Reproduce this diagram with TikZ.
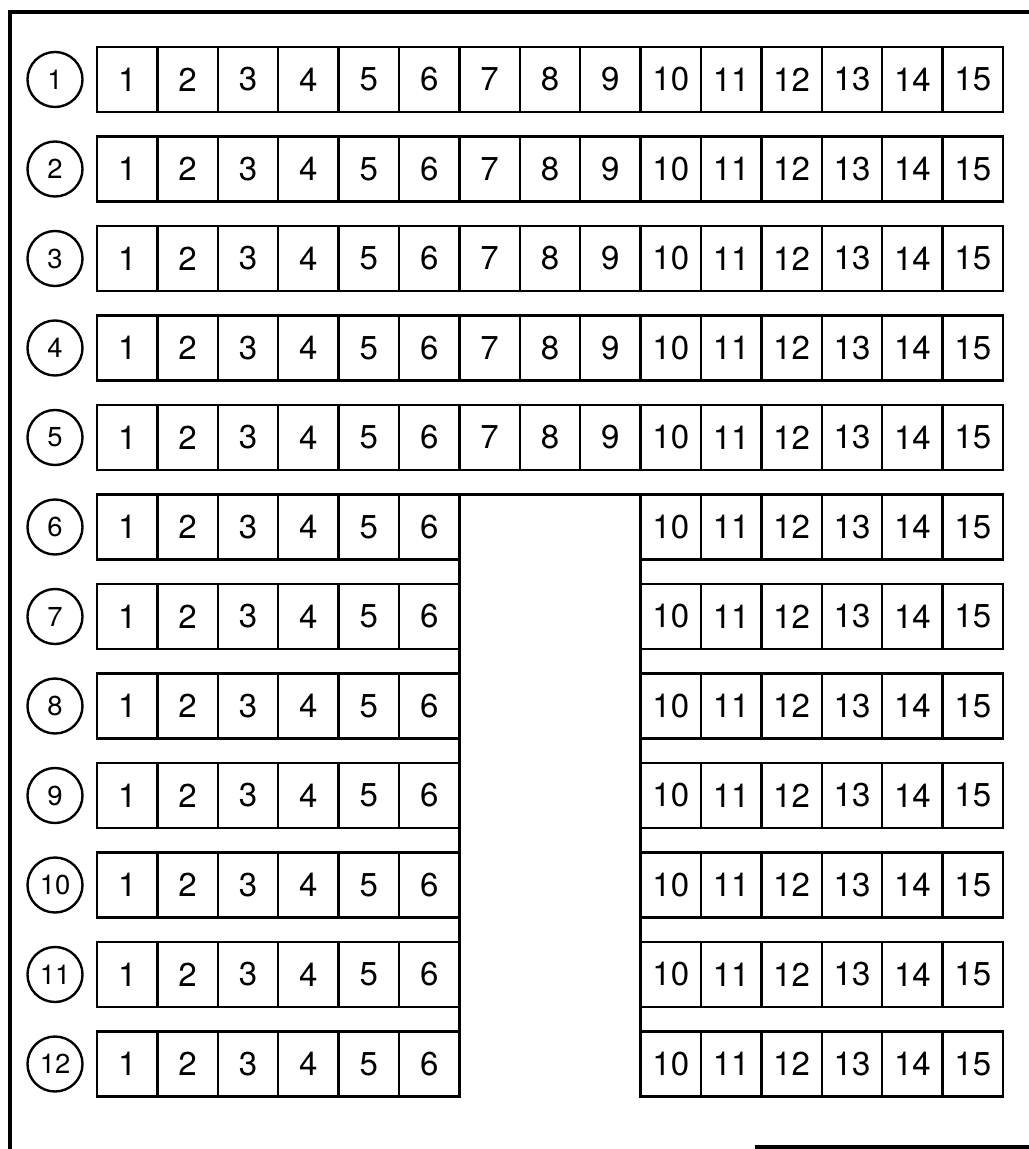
\documentclass[tikz,border=0pt]{standalone}
\usepackage{fontspec}
\setmainfont{TeX Gyre Heros}
\usepackage{tikz}
\usetikzlibrary{positioning}

\begin{document}
\begin{tikzpicture}[x=0.025cm, y=-0.025cm,
    cell/.style={draw, line width=1.8pt, minimum width=1.51cm, minimum height=1.625cm,
      inner sep=0pt, outer sep=0pt, font=\fontsize{23.5}{26}\selectfont},
    rowlabel/.style={draw, circle, line width=1.7pt, minimum size=1.375cm,
      inner sep=0pt, outer sep=0pt, font=\fontsize{19.5}{22}\selectfont},
    wall/.style={line width=1.8pt},
    frame/.style={line width=2.2pt}]
  \useasboundingbox (0,0) rectangle (1029,1149);
  % outer frame
  \coordinate (frameBL) at (10,1149);
  \coordinate (frameTL) at (10,12);
  \coordinate (frameTR) at (1029,12);
  \coordinate (frameBR) at (1029,1147);
  \coordinate (frameBM) at (755,1147);
  \draw[frame] (frameBL) -- (frameTL) -- (frameTR);
  \draw[frame] (frameBM) -- (frameBR);
  % row numbers
  \foreach \r in {1,...,12}
    \node[rowlabel] (lbl\r) at (55,{79.5+89.5*(\r-1)}) {\r};
  % full rows
  \foreach \r in {1,...,5}
    \foreach \c in {1,...,15}
      \node[cell] (c\r-\c) at ({97+60.4*(\c-0.5)},{79.5+89.5*(\r-1)}) {\c};
  % split rows
  \foreach \r in {6,...,12}
    \foreach \c in {1,...,6,10,11,...,15}
      \node[cell] (c\r-\c) at ({97+60.4*(\c-0.5)},{79.5+89.5*(\r-1)}) {\c};
  % gap walls
  \draw[wall] (c6-6.north east) -- (c6-10.north west);
  \draw[wall] (c6-6.north east) -- (c12-6.south east);
  \draw[wall] (c6-10.north west) -- (c12-10.south west);
\end{tikzpicture}
\end{document}
